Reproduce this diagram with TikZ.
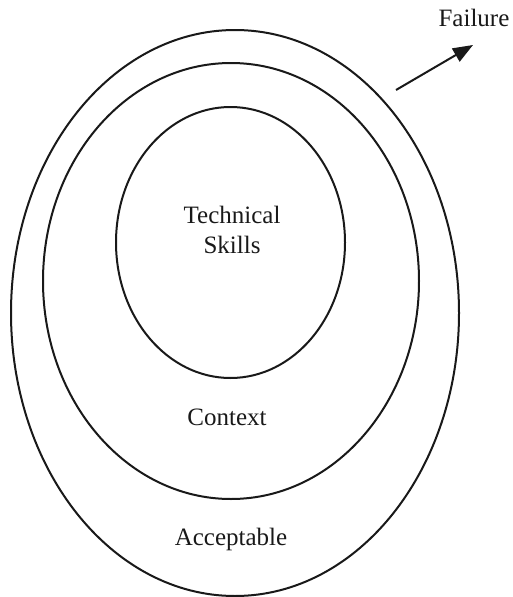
\documentclass[tikz,border=0pt]{standalone}
\usepackage{fontspec}
\setmainfont{Liberation Serif}
\usetikzlibrary{shapes.geometric,arrows.meta}
\begin{document}
\begin{tikzpicture}[x=1pt,y=-1pt,
  ring/.style={draw=black!90,line width=2pt,ellipse,inner sep=0pt,outer sep=0pt},
  lbl/.style={font=\fontsize{25}{30}\selectfont,text=black!90,anchor=base,inner sep=0pt}]
\useasboundingbox (0,0) rectangle (513,597);
\node[ring,minimum width=448pt,minimum height=566pt] (outer) at (235,313) {};
\node[ring,minimum width=376pt,minimum height=436pt] (middle) at (231,281) {};
\node[ring,minimum width=229pt,minimum height=271pt] (inner) at (230.5,242.5) {};
\node[lbl] (tech) at (232,223) {Technical};
\node[lbl] (skills) at (232,253) {Skills};
\node[lbl] (context) at (227,425) {Context};
\node[lbl] (accept) at (231,545) {Acceptable};
\node[lbl] (failure) at (474,27) {Failure};
\coordinate (astart) at (396,90);
\coordinate (aend) at (473,45);
\draw[line width=2pt,draw=black!90,-{Triangle[length=20pt,width=15pt]}] (astart) -- (aend);
\end{tikzpicture}
\end{document}
